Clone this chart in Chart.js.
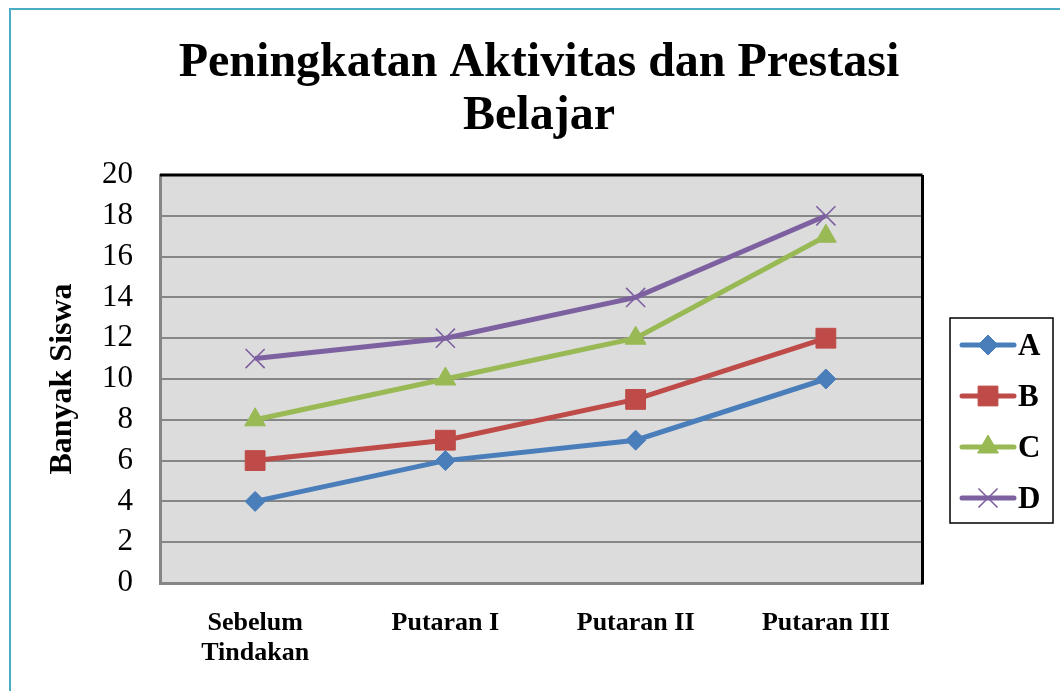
<!DOCTYPE html>
<html>
<head>
<meta charset="utf-8">
<script src="https://cdn.jsdelivr.net/npm/chart.js@4.4.0/dist/chart.umd.min.js"></script>
<style>
  html, body { margin: 0; padding: 0; background: #fff; }
  #wrap { width: 1060px; height: 691px; }
</style>
</head>
<body>
<div id="wrap"><canvas id="chart" width="1060" height="691"></canvas></div>
<script>
// data
const categories = [["Sebelum", "Tindakan"], "Putaran I", "Putaran II", "Putaran III"];
const seriesNames = ["A", "B", "C", "D"];
const valuesA = [4, 6, 7, 10];
const valuesB = [6, 7, 9, 12];
const valuesC = [8, 10, 12, 17];
const valuesD = [11, 12, 14, 18];
const titleLines = ["Peningkatan Aktivitas dan Prestasi", "Belajar"];
const yTitle = "Banyak Siswa";

const serif = '"Liberation Serif", "Times New Roman", serif';

function serie(label, data, color, style, radius, pbw) {
  return {
    label: label,
    data: data,
    borderColor: color,
    backgroundColor: color,
    borderWidth: 5,
    tension: 0,
    pointStyle: style,
    pointRadius: radius,
    pointHoverRadius: radius,
    pointBackgroundColor: color,
    pointBorderColor: color,
    pointBorderWidth: pbw
  };
}

const datasets = [
  serie(seriesNames[0], valuesA, "#4a7ebb", "rectRot", 10, 1),
  serie(seriesNames[1], valuesB, "#be4b48", "rect", 14, 1),
  serie(seriesNames[2], valuesC, "#98b954", "triangle", 12, 1),
  serie(seriesNames[3], valuesD, "#7d60a0", "crossRot", 13.5, 1.6)
];

const decor = {
  id: "decor",
  beforeDraw(chart) {
    const ctx = chart.ctx, a = chart.chartArea;
    ctx.save();
    ctx.fillStyle = "#fff";
    ctx.fillRect(0, 0, chart.width, chart.height);
    ctx.fillStyle = "#dcdcdc";
    ctx.fillRect(a.left, a.top, a.right - a.left, a.bottom - a.top);
    ctx.restore();
  },
  beforeDatasetsDraw(chart) {
    const ctx = chart.ctx, a = chart.chartArea;
    ctx.save();
    ctx.strokeStyle = "#000";
    ctx.lineWidth = 3;
    ctx.beginPath();
    ctx.moveTo(a.left, a.top);
    ctx.lineTo(a.right + 1.5, a.top);
    ctx.moveTo(a.right + 1.5, a.top);
    ctx.lineTo(a.right + 1.5, a.bottom + 1.5);
    ctx.stroke();
    ctx.restore();
  },
  afterDraw(chart) {
    const ctx = chart.ctx;
    ctx.save();
    // title
    ctx.fillStyle = "#000";
    ctx.font = "bold 48px " + serif;
    ctx.textAlign = "center";
    ctx.textBaseline = "alphabetic";
    ctx.fillText(titleLines[0], 539, 76);
    ctx.fillText(titleLines[1], 539, 129);

    // legend
    ctx.strokeStyle = "#000";
    ctx.lineWidth = 1.5;
    ctx.strokeRect(950, 318, 103, 205);
    chart.data.datasets.forEach((ds, i) => {
      const y = 345 + i * 51;
      ctx.strokeStyle = ds.borderColor;
      ctx.lineWidth = 5;
      ctx.lineCap = "round";
      ctx.beginPath();
      ctx.moveTo(962, y);
      ctx.lineTo(1014, y);
      ctx.stroke();
      ctx.lineCap = "butt";
      ctx.fillStyle = ds.pointBackgroundColor;
      ctx.strokeStyle = ds.pointBorderColor;
      ctx.lineWidth = ds.pointBorderWidth;
      Chart.helpers.drawPoint(ctx, {
        pointStyle: ds.pointStyle,
        radius: ds.pointRadius,
        rotation: 0,
        borderWidth: ds.pointBorderWidth
      }, 988, y);
      ctx.fillStyle = "#000";
      ctx.font = "bold 31px " + serif;
      ctx.textAlign = "left";
      ctx.textBaseline = "middle";
      ctx.fillText(ds.label, 1018, y + 2);
    });

    // outer frame
    ctx.strokeStyle = "#4bacc6";
    ctx.lineWidth = 2;
    ctx.strokeRect(10, 9, 1200, 800);
    ctx.restore();
  }
};

new Chart(document.getElementById("chart"), {
  type: "line",
  data: { labels: categories, datasets: datasets },
  options: {
    responsive: false,
    animation: false,
    events: [],
    layout: { padding: { top: 175, right: 139, bottom: 0, left: 0 } },
    plugins: {
      legend: { display: false },
      title: { display: false },
      tooltip: { enabled: false }
    },
    scales: {
      x: {
        offset: true,
        afterFit(scale) { scale.height = 108; },
        grid: { display: false, drawTicks: false },
        border: { display: true, color: "#868686", width: 3 },
        ticks: {
          color: "#000",
          padding: 25,
          maxRotation: 0,
          autoSkip: false,
          font: { family: serif, size: 26, weight: "bold", lineHeight: 1.15 }
        }
      },
      y: {
        min: 0,
        max: 20,
        afterFit(scale) { scale.width = 160; },
        grid: { color: "#868686", lineWidth: 2, drawTicks: false },
        border: { display: true, color: "#868686", width: 3 },
        ticks: {
          stepSize: 2,
          color: "#000",
          padding: 27,
          font: { family: serif, size: 31 }
        },
        title: {
          display: true,
          text: yTitle,
          color: "#000",
          padding: { top: 44, bottom: 0 },
          font: { family: serif, size: 32, weight: "bold", lineHeight: 1.2 }
        }
      }
    }
  },
  plugins: [decor]
});
</script>
</body>
</html>
